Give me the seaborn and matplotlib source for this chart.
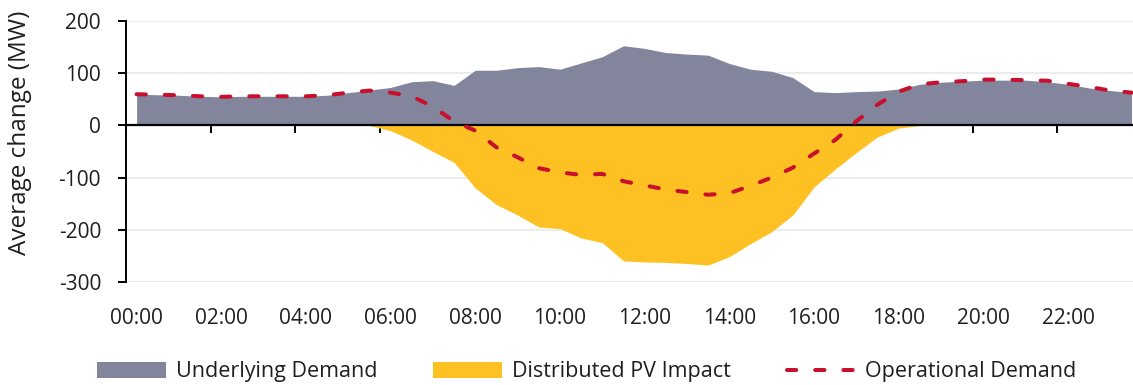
import numpy as np
import pandas as pd
import matplotlib
matplotlib.use("Agg")
import matplotlib.pyplot as plt
import seaborn as sns
from matplotlib.patches import Patch
from matplotlib.lines import Line2D

# ---- data (half-hourly, 00:00 .. 23:30) ----
slots = list(range(48))
underlying = [60, 59, 58, 56, 55, 56, 56, 56, 56, 58, 63, 68,
              73, 84, 86, 77, 106, 106, 111, 113, 108, 120, 132, 153,
              148, 140, 137, 135, 119, 108, 104, 92, 65, 63, 65, 66,
              70, 79, 83, 85, 87, 87, 87, 84, 79, 72, 67, 63]
pv_impact = [0, 0, 0, 0, 0, 0, 0, 0, 0, 0, 0, 0,
             -10, -28, -50, -71, -120, -152, -172, -195, -198, -216, -225, -260,
             -262, -263, -265, -268, -252, -227, -204, -172, -118, -84, -52, -22,
             -5, 0, 0, 0, 0, 0, 0, 0, 0, 0, 0, 0]
operational = [60, 59, 58, 56, 55, 56, 56, 56, 56, 58, 63, 67,
               63, 56, 36, 8, -10, -42, -61, -82, -90, -95, -93, -107,
               -115, -123, -128, -133, -130, -116, -100, -81, -54, -28, 8, 40,
               65, 79, 83, 85, 88, 88, 87, 86, 80, 74, 67, 63]
tick_labels = ["00:00", "02:00", "04:00", "06:00", "08:00", "10:00",
               "12:00", "14:00", "16:00", "18:00", "20:00", "22:00"]
label_slots = [0, 4, 8, 12, 16, 20, 24, 28, 32, 36, 40, 44]
y_ticks = [-300, -200, -100, 0, 100, 200]

df = pd.DataFrame({"slot": slots, "underlying": underlying,
                   "pv": pv_impact, "operational": operational})

GREY = "#83859C"
YELLOW = "#FEC124"
RED = "#C8102E"
TEXT = "#1F1F1F"

sns.set_theme(style="white")
plt.rcParams["font.family"] = ["Open Sans", "DejaVu Sans"]
plt.rcParams["axes.unicode_minus"] = False
FS = 15

fig = plt.figure(figsize=(11.33, 3.85), dpi=100)
ax = fig.add_axes([126 / 1133, 1 - 281.7 / 385, 1 - 126 / 1133, (281.7 - 21.3) / 385])

ax.fill_between(df["slot"], 0, df["underlying"], color=GREY, lw=0, zorder=1)
ax.fill_between(df["slot"], 0, df["pv"], color=YELLOW, lw=0, zorder=1.1)
sns.lineplot(data=df, x="slot", y="operational", ax=ax, color=RED, lw=2.9,
             zorder=3, legend=False)
ln = ax.lines[-1]
ln.set_dashes((2.3, 4.7))
ln.set_dash_capstyle("round")

ax.set_xlim(-0.5, 47.07)
ax.set_ylim(-300, 200)
ax.set_yticks(y_ticks)
ax.set_yticklabels([str(v) for v in y_ticks])
ax.yaxis.grid(True, color="#ECECEC", lw=1.5)
ax.set_axisbelow(True)

for s in ["top", "right"]:
    ax.spines[s].set_visible(False)
ax.spines["left"].set_color("black")
ax.spines["left"].set_linewidth(1.4)
ax.spines["bottom"].set_position(("data", 0))
ax.spines["bottom"].set_color("black")
ax.spines["bottom"].set_linewidth(1.6)
ax.spines["bottom"].set_zorder(2.5)

ax.set_xticks([-0.5 + 4 * k for k in range(12)])
ax.tick_params(axis="x", bottom=True, direction="out", length=6, width=1.4,
               color="black", labelbottom=False)
ax.tick_params(axis="y", left=True, direction="out", length=6, width=1.4,
               color="black", pad=12, labelsize=FS, labelcolor=TEXT)

sec = ax.secondary_xaxis(0.0)
sec.set_xticks(label_slots)
sec.set_xticklabels(tick_labels)
sec.tick_params(bottom=False, length=0, pad=19, labelsize=FS, labelcolor=TEXT)
sec.spines["bottom"].set_visible(False)

ax.set_xlabel("")
ax.set_ylabel("Average change (MW)", fontsize=17.5, color=TEXT)
ax.yaxis.set_label_coords(-0.093, 0.57)

handles = [Patch(facecolor=GREY, edgecolor="none"),
           Patch(facecolor=YELLOW, edgecolor="none"),
           Line2D([], [], color=RED, lw=2.9, dashes=(2.3, 4.7), dash_capstyle="round")]
fig.legend(handles, ["Underlying Demand", "Distributed PV Impact", "Operational Demand"],
           loc="center", bbox_to_anchor=(0.518, 0.034), ncol=3, frameon=False,
           fontsize=FS + 0.5, handlelength=3.2, handleheight=0.75, handletextpad=0.45,
           columnspacing=2.6, labelcolor=TEXT, borderaxespad=0, borderpad=0)

fig.savefig("out.png", dpi=100)
